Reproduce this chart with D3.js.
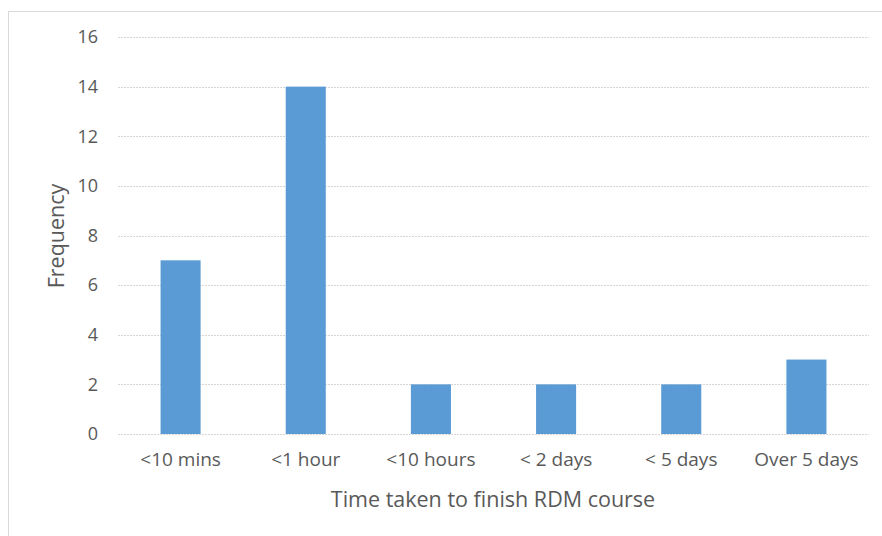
<!DOCTYPE html>
<html>
<head>
<meta charset="utf-8">
<script src="https://cdn.jsdelivr.net/npm/d3@7"></script>
<style>
  html, body { margin: 0; padding: 0; background: #fff; }
  svg { display: block; }
  text { font-family: "Open Sans", "Liberation Sans", sans-serif; fill: #595959; }
</style>
</head>
<body>
<svg id="chart" width="882" height="536"></svg>
<script>
// Survey responses: time taken to finish the RDM course
const categories = ["<10 mins", "<1 hour", "<10 hours", "< 2 days", "< 5 days", "Over 5 days"];
const frequency = [7, 14, 2, 2, 2, 3];
const yTicks = [0, 2, 4, 6, 8, 10, 12, 14, 16];

const svg = d3.select("#chart");
const W = 882, H = 536;

// chart frame
svg.append("rect")
  .attr("x", 8.5).attr("y", 11.5)
  .attr("width", W).attr("height", H)
  .attr("fill", "#fff").attr("stroke", "#d9d9d9").attr("stroke-width", 1);

const plot = { left: 118, right: 869, top: 37, bottom: 434 };

const x = d3.scaleBand()
  .domain(categories)
  .range([plot.left, plot.right])
  .paddingInner(0.68).paddingOuter(0.34);

const y = d3.scaleLinear().domain([0, 16]).range([plot.bottom, plot.top]);

// gridlines
svg.append("g")
  .selectAll("line")
  .data(yTicks)
  .join("line")
  .attr("x1", plot.left).attr("x2", plot.right)
  .attr("y1", d => Math.round(y(d)) + 0.5).attr("y2", d => Math.round(y(d)) + 0.5)
  .attr("stroke", "#d6d6d6").attr("stroke-width", 1)
  .attr("stroke-dasharray", "2,1");

// bars
svg.append("g")
  .selectAll("rect")
  .data(frequency)
  .join("rect")
  .attr("x", (d, i) => x(categories[i]))
  .attr("width", x.bandwidth())
  .attr("y", d => y(d))
  .attr("height", d => y(0) - y(d))
  .attr("fill", "#5b9bd5");

// y axis labels
const yAxis = d3.axisLeft(y).tickValues(yTicks).tickSize(0).tickPadding(20);
const gy = svg.append("g").attr("transform", `translate(${plot.left},0)`).call(yAxis);
gy.select(".domain").remove();
gy.selectAll("text")
  .style("font-family", "\"Open Sans\", sans-serif")
  .style("font-size", "18px").attr("fill", "#595959");

// x axis labels
const xAxis = d3.axisBottom(x).tickSize(0).tickPadding(19);
const gx = svg.append("g").attr("transform", `translate(0,${plot.bottom})`).call(xAxis);
gx.select(".domain").remove();
gx.selectAll("text")
  .style("font-family", "\"Open Sans\", sans-serif")
  .style("font-size", "19px").attr("fill", "#595959");

// axis titles
svg.append("text")
  .attr("x", 493)
  .attr("y", 507)
  .attr("text-anchor", "middle")
  .style("font-size", "21.5px")
  .text("Time taken to finish RDM course");

svg.append("text")
  .attr("transform", `translate(64,236) rotate(-90)`)
  .attr("text-anchor", "middle")
  .style("font-size", "21.5px")
  .text("Frequency");
</script>
</body>
</html>
